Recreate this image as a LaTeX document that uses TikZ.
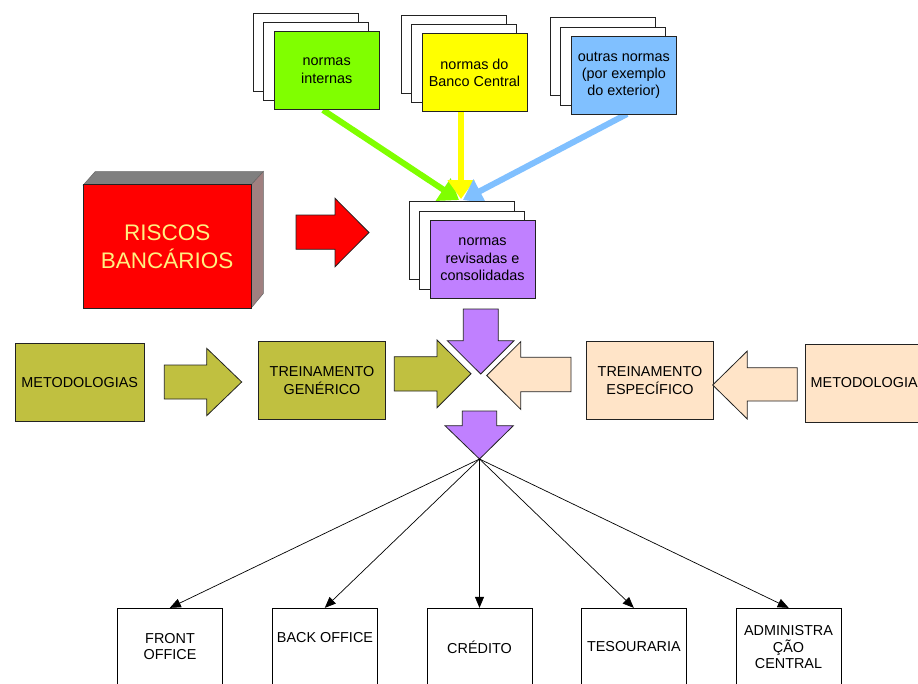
\documentclass[tikz,border=0pt]{standalone}
\usepackage{fontspec}
\setmainfont{Liberation Sans}
\usetikzlibrary{arrows.meta}
\definecolor{cgreen}{HTML}{80FF00}
\definecolor{cyellow}{HTML}{FFFF00}
\definecolor{cblue}{HTML}{80C0FF}
\definecolor{cpurple}{HTML}{C080FF}
\definecolor{colive}{HTML}{C0C040}
\definecolor{cpeach}{HTML}{FFE4C8}
\definecolor{cred}{HTML}{FF0000}
\definecolor{ctop}{HTML}{7F7F7F}
\definecolor{cside}{HTML}{A08080}
\definecolor{ctext}{HTML}{FFF080}
\definecolor{cline}{HTML}{222222}
\begin{document}
\begin{tikzpicture}[x=1pt,y=-1pt,
  every node/.style={font=\fontsize{14.4}{17.3}\selectfont, align=center, inner sep=0pt, text=black},
  page/.style={draw=cline, line width=0.9pt, fill=white, minimum width=105pt, minimum height=78pt},
  box/.style={draw=cline, line width=0.9pt, minimum width=127pt, minimum height=77.6pt},
  blockarrow/.style={draw=cline, line width=0.8pt, line join=miter},
  flow/.style={line width=6pt, -{Triangle[length=19pt,width=26pt]}},
  link/.style={line width=0.7pt, -{Triangle[length=11pt,width=9pt]}},
  unitbox/.style={draw=black, line width=0.9pt, minimum width=105pt, minimum height=92pt},
  unitlbl/.style={font=\fontsize{14.4}{16.5}\selectfont}
]
\useasboundingbox (0,0) rectangle (918,683);
\clip (0,0) rectangle (918,683);
\fill[white] (0,0) rectangle (918,683);

% convergence points of the three flows
\coordinate (tipg) at (459,200);
\coordinate (tipy) at (461,199);
\coordinate (tipb) at (463,200);
\coordinate (gs) at (323,110);
\coordinate (ys) at (461,111);
\coordinate (bs) at (627,114);

% flows (drawn first so that pages cover their start)
\draw[flow, cgreen] (gs) -- (tipg);
\draw[flow, cyellow] (ys) -- (tipy);
\draw[flow, cblue] (bs) -- (tipb);

% stack: normas internas
\node[page] (g3) at (305.7,52.3) {};
\node[page] (g2) at (315.7,61.8) {};
\node[page, fill=cgreen] (g1) at (326.7,70.8) {normas\\internas};
% stack: Banco Central
\node[page] (y3) at (453.5,54) {};
\node[page] (y2) at (463.5,63.5) {};
\node[page, fill=cyellow] (y1) at (474.5,72.5) {normas do\\Banco Central};
% stack: outras normas
\node[page] (b3) at (602.8,56.7) {};
\node[page] (b2) at (612.8,66.2) {};
\node[page, fill=cblue] (b1) at (623.8,75.2) {outras normas\\(por exemplo\\do exterior)};
% stack: normas revisadas
\node[page] (r3) at (461.5,240.7) {};
\node[page] (r2) at (471.5,250.2) {};
\node[page, fill=cpurple] (r1) at (482.5,259.2) {normas\\revisadas e\\consolidadas};

% 3D red block
\filldraw[fill=ctop, draw=black!60, line width=0.5pt] (83.3,185) -- (95.3,171.5) -- (263.3,171.5) -- (251,185) -- cycle;
\filldraw[fill=cside, draw=black!60, line width=0.5pt] (251,185) -- (263.3,171.5) -- (263.3,293.5) -- (251,308.3) -- cycle;
\node[draw=cline, line width=0.9pt, fill=cred, minimum width=167.7pt, minimum height=123.3pt,
      text=ctext, font=\fontsize{22.5}{28}\selectfont] (risk) at (167.2,246.3) {RISCOS\\BANCÁRIOS};

% red block arrow
\filldraw[blockarrow, fill=cred] (296,215) -- (335,215) -- (335,198.3) -- (369,232.5) -- (335,266.7) -- (335,249.3) -- (296,249.3) -- cycle;

% middle row
\node[box, fill=colive, minimum width=129.3pt] (met1) at (79.7,382.2) {METODOLOGIAS};
\node[box, fill=colive] (tg) at (322,380.5) {TREINAMENTO\\GENÉRICO};
\node[box, fill=cpeach] (te) at (650,380.5) {TREINAMENTO\\ESPECÍFICO};
\node[box, fill=cpeach, minimum width=129.3pt, minimum height=78pt] (met2) at (870.3,383.3) {};
\node[anchor=west] (met2t) at (810.5,382.5) {METODOLOGIA};

% olive block arrows
\filldraw[blockarrow, fill=colive] (164.3,365) -- (206.7,365) -- (206.7,348.3) -- (241.7,382) -- (206.7,415.7) -- (206.7,399) -- (164.3,399) -- cycle;
\filldraw[blockarrow, fill=colive] (394.3,356.7) -- (437,356.7) -- (437,340) -- (471,373.8) -- (437,407.7) -- (437,391) -- (394.3,391) -- cycle;
% purple down arrow (top)
\filldraw[blockarrow, fill=cpurple] (463.3,309) -- (498.3,309) -- (498.3,340.7) -- (514,340.7) -- (480.7,374) -- (447.3,340.7) -- (463.3,340.7) -- cycle;
% peach left arrows
\filldraw[blockarrow, fill=cpeach] (571,357.3) -- (520.7,357.3) -- (520.7,341.7) -- (486.7,375.5) -- (520.7,409.3) -- (520.7,391.7) -- (571,391.7) -- cycle;
\filldraw[blockarrow, fill=cpeach] (797.3,367.7) -- (747.3,367.7) -- (747.3,351) -- (712.7,385) -- (747.3,419) -- (747.3,401) -- (797.3,401) -- cycle;
% purple down arrow (bottom)
\filldraw[blockarrow, fill=cpurple] (462.3,411) -- (496.7,411) -- (496.7,425.7) -- (513.3,425.7) -- (479.5,459) -- (445,425.7) -- (462.3,425.7) -- cycle;
\coordinate (hub) at (479.5,459);

% bottom units
\node[unitbox] (fo) at (169.8,654.3) {};
\node[unitbox] (bo) at (324.8,654.3) {};
\node[unitbox] (cr) at (479.5,654.3) {};
\node[unitbox] (ts) at (633.8,654.3) {};
\node[unitbox] (ad) at (788.7,654.3) {};
\node[unitlbl] (fot) at (170,646.5) {FRONT\\OFFICE};
\node[unitlbl] (bot) at (325,638) {BACK OFFICE};
\node[unitlbl] (crt) at (479.5,647) {CRÉDITO};
\node[unitlbl] (tst) at (633.8,647) {TESOURARIA};
\node[unitlbl] (adt) at (788.5,647.5) {ADMINISTRA\\ÇÃO\\CENTRAL};

% links
\draw[link] (hub) -- (fo.north);
\draw[link] (hub) -- (bo.north);
\draw[link] (hub) -- (cr.north);
\draw[link] (hub) -- (ts.north);
\draw[link] (hub) -- (ad.north);
\end{tikzpicture}
\end{document}
